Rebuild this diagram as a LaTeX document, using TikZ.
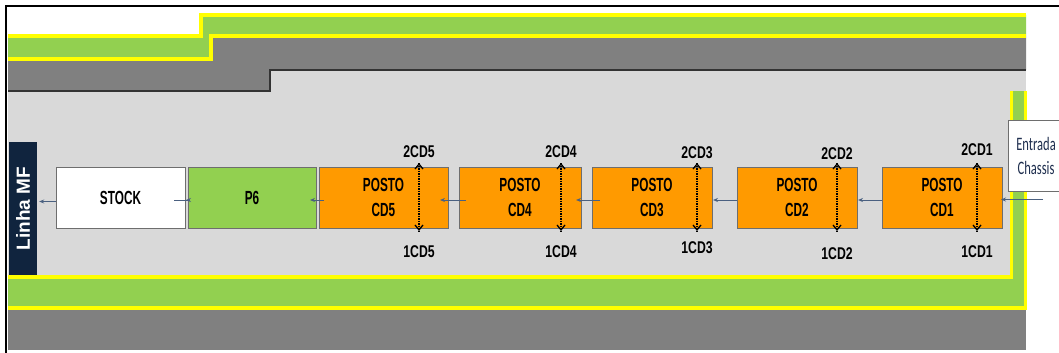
\documentclass[tikz,border=0pt]{standalone}
\usepackage{fontspec}
\usepackage{tikz}
\usetikzlibrary{arrows.meta,positioning,calc}
\usepackage{xcolor}
\newfontfamily\postofont[FakeStretch=0.62]{Liberation Sans}
\newfontfamily\cdfont[FakeStretch=0.72]{Liberation Sans}
\newfontfamily\linhafont{Liberation Sans}
\newfontfamily\entradafont[FakeStretch=0.66]{Carlito}
\definecolor{lanegreen}{HTML}{92D050}
\definecolor{laneyellow}{HTML}{FFFF00}
\definecolor{wallgray}{HTML}{808080}
\definecolor{floorgray}{HTML}{D9D9D9}
\definecolor{postoorange}{HTML}{FF9A00}
\definecolor{linhanavy}{HTML}{10243E}
\definecolor{flowblue}{HTML}{4A6080}
\definecolor{entradanavy}{HTML}{1F2F4F}
\definecolor{boxgray}{HTML}{6E6E6E}

\begin{document}
\begin{tikzpicture}[
  x=1pt, y=-1pt,
  box/.style={draw=boxgray, line width=1pt, outer sep=0pt, minimum height=61pt, inner sep=0pt, align=center, font=\postofont\bfseries\fontsize{19}{25}\selectfont},
  posto/.style={box, fill=postoorange, minimum width=120pt},
  stockbox/.style={box, fill=white, minimum width=129pt},
  pbox/.style={box, fill=lanegreen, minimum width=128pt},
  cdlabel/.style={inner sep=0pt, font=\cdfont\bfseries\fontsize{17}{17}\selectfont},
  flow/.style={-{Stealth[length=5pt,width=4pt]}, flowblue, line width=0.9pt},
  sensor/.style={densely dotted, line width=1.5pt},
  sensortip/.style={-{Straight Barb[length=5pt,width=8pt,line width=1.3pt]}, solid, line width=1.5pt},
]
\useasboundingbox (0,0) rectangle (1059,353);

% floor, walls and green lanes
\fill[floorgray] (8,70) rectangle (1026,277);
\fill[wallgray] (8,59) -- (211,59) -- (211,36) -- (1026,36) -- (1026,70) -- (270,70) -- (270,91) -- (8,91) -- cycle;
\fill[lanegreen] (8,36) -- (201,36) -- (201,15) -- (1026,15) -- (1026,36) -- (211,36) -- (211,59) -- (8,59) -- cycle;
\draw[laneyellow, line width=4pt] (8,36) -- (201,36) -- (201,15) -- (1026,15);
\draw[laneyellow, line width=4pt] (8,59) -- (211,59) -- (211,36) -- (1026,36);
\draw[black!80, line width=1.5pt] (8,91) -- (270,91) -- (270,70) -- (1026,70);
\fill[lanegreen] (1011,91) -- (1025,91) -- (1025,308) -- (8,308) -- (8,277) -- (1011,277) -- cycle;
\draw[laneyellow, line width=3.5pt] (1011.5,91) -- (1011.5,277) -- (8,277);
\draw[laneyellow, line width=3.5pt] (1025.5,91) -- (1025.5,308) -- (8,308);
\fill[wallgray] (8,310) rectangle (1026,350);
\draw[black, line width=2pt] (6,353) -- (6,6.5) -- (1059,6.5);

\node[fill=linhanavy, minimum width=28pt, minimum height=133pt, inner sep=0pt, text=white, font=\linhafont\bfseries\fontsize{19}{19}\selectfont] (linha) at (23,208.5) {\rotatebox{90}{Linha MF}};

\node[posto] (cd1) at (942,197.5) {POSTO\\CD1};
\node[posto, left=25pt of cd1] (cd2) {POSTO\\CD2};
\node[posto, left=25pt of cd2] (cd3) {POSTO\\CD3};
\node[posto, minimum width=122pt, left=11pt of cd3] (cd4) {POSTO\\CD4};
\node[posto, minimum width=129pt, left=11pt of cd4] (cd5) {POSTO\\CD5};
\node[pbox, left=3pt of cd5] (p6) {P6};
\node[stockbox, left=3pt of p6] (stock) {STOCK};

\node[draw=boxgray, fill=white, line width=0.8pt, minimum width=56pt, minimum height=71pt, inner sep=0pt, align=center, text=entradanavy, font=\entradafont\fontsize{19}{24}\selectfont] (entrada) at (1036,155.5) {Entrada\\Chassis};

\foreach \a/\b/\s/\e in {cd1/cd2/0pt/1pt, cd2/cd3/0pt/1pt, cd3/cd4/-8pt/-5pt, cd4/cd5/-7pt/-8pt, cd5/p6/-5pt/-6pt, p6/stock/-14pt/1pt}
  \draw[flow, shorten <=\s, shorten >=\e] ([yshift=-2.5pt]\a.west) -- ([yshift=-2.5pt]\b.east);

\coordinate (entry) at (1043,199.5);
\draw[flow, shorten >=-1pt] (entry) -- (entry -| cd1.east);
\coordinate (stockout) at ([yshift=-4pt]stock.west);
\draw[flow, shorten >=2pt] (stockout) -- (stockout -| linha.east);

% sensors: dotted shaft, solid heads
\foreach \n/\x/\ya/\yb in {1/977/150/252, 2/837/154/254, 3/697/153/248, 4/561/152/252, 5/419/152/252} {
  \node[cdlabel] (up\n) at (\x,\ya) {2CD\n};
  \node[cdlabel] (dn\n) at (\x,\yb) {1CD\n};
  \coordinate (top\n) at ([yshift=4pt]up\n |- cd\n.north);
  \coordinate (bot\n) at ([yshift=-3pt]dn\n |- cd\n.south);
  \draw[sensor] (top\n) -- (bot\n);
  \draw[sensortip] ([yshift=-1pt]top\n) -- (top\n);
  \draw[sensortip] ([yshift=1pt]bot\n) -- (bot\n);
}
\end{tikzpicture}
\end{document}
